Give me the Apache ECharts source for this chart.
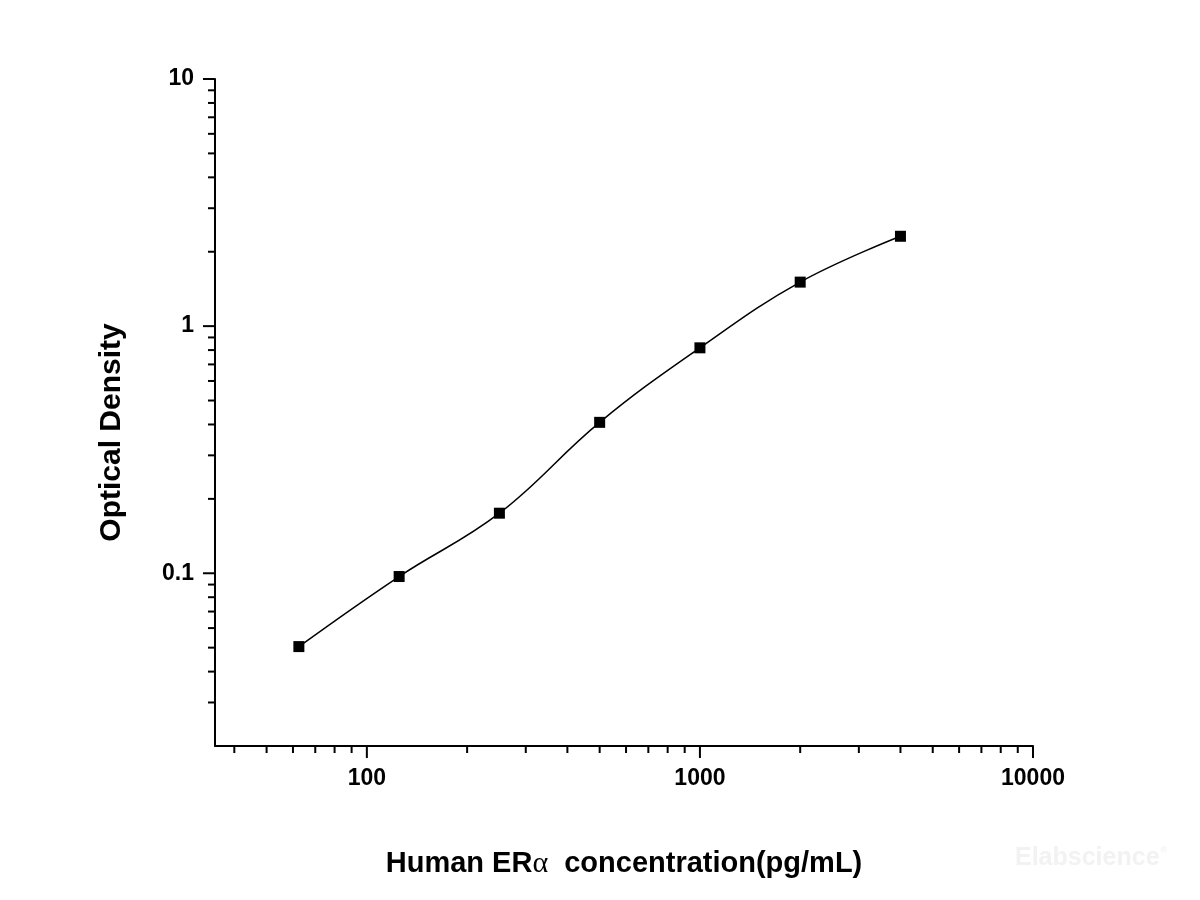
<!DOCTYPE html>
<html>
<head>
<meta charset="utf-8">
<script src="https://cdn.jsdelivr.net/npm/echarts@6/dist/echarts.min.js"></script>
<style>
  html, body { margin: 0; padding: 0; background: #fff; }
  #chart { width: 1200px; height: 900px; }
</style>
</head>
<body>
<div id="chart"></div>
<script>
// standard concentrations (pg/mL) and measured OD
var concentration = [62.5, 125, 250, 500, 1000, 2000, 4000];
var opticalDensity = [0.0505, 0.097, 0.175, 0.408, 0.817, 1.507, 2.31];

// axis ranges and tick values
var xRange = [35, 10000];
var yRange = [0.02, 10];
var xMajorTicks = [100, 1000, 10000];
var xMinorTicks = [40, 50, 60, 70, 80, 90, 200, 300, 400, 500, 600, 700, 800, 900,
  2000, 3000, 4000, 5000, 6000, 7000, 8000, 9000];
var yMajorTicks = [0.1, 1, 10];
var yMinorTicks = [0.03, 0.04, 0.05, 0.06, 0.07, 0.08, 0.09, 0.2, 0.3, 0.4, 0.5,
  0.6, 0.7, 0.8, 0.9, 2, 3, 4, 5, 6, 7, 8, 9];

var font = '"Liberation Sans", Arial, sans-serif';

function tickSeries(values, isX, len) {
  return {
    type: 'custom',
    clip: false,
    silent: true,
    data: values.map(function (v) { return isX ? [v, yRange[0]] : [xRange[0], v]; }),
    renderItem: function (params, api) {
      var p = api.coord([api.value(0), api.value(1)]);
      return {
        type: 'line',
        shape: isX ? { x1: p[0], y1: p[1], x2: p[0], y2: p[1] + len }
                   : { x1: p[0], y1: p[1], x2: p[0] - len, y2: p[1] },
        style: { stroke: '#000', lineWidth: 2 }
      };
    }
  };
}

function fmt(v) { return String(+(+v).toPrecision(6)); }

var chart = echarts.init(document.getElementById('chart'));
chart.setOption({
  animation: false,
  backgroundColor: '#fff',
  grid: { left: 215, right: 167, top: 79, bottom: 154 },
  xAxis: {
    type: 'log',
    logBase: 10,
    min: xRange[0],
    max: xRange[1],
    splitLine: { show: false },
    axisTick: { show: false },
    axisLine: { lineStyle: { color: '#000', width: 2 } },
    axisLabel: {
      showMinLabel: false,
      margin: 21,
      color: '#000',
      fontFamily: font,
      fontWeight: 'bold',
      fontSize: 23,
      formatter: fmt
    },
    name: 'Human ER{a|α}  concentration(pg/mL)',
    nameLocation: 'middle',
    nameGap: 103,
    nameTextStyle: {
      color: '#000',
      fontFamily: font,
      fontWeight: 'bold',
      fontSize: 29,
      rich: {
        a: { fontFamily: '"Liberation Serif", "Times New Roman", serif', fontWeight: 'normal', fontSize: 30, color: '#000' }
      }
    }
  },
  yAxis: {
    type: 'log',
    logBase: 10,
    min: yRange[0],
    max: yRange[1],
    splitLine: { show: false },
    axisTick: { show: false },
    axisLine: { lineStyle: { color: '#000', width: 2 } },
    axisLabel: {
      showMinLabel: false,
      margin: 21,
      color: '#000',
      fontFamily: font,
      fontWeight: 'bold',
      fontSize: 23,
      formatter: fmt
    },
    name: 'Optical Density',
    nameLocation: 'middle',
    nameRotate: 90,
    nameGap: 88,
    nameTextStyle: {
      color: '#000',
      fontFamily: font,
      fontWeight: 'bold',
      fontSize: 30,
      padding: [0, 40, 0, 0]
    }
  },
  graphic: [{
    type: 'text',
    left: 1015,
    top: 846,
    style: {
      text: '{t|Elabscience}{r|®}',
      rich: {
        t: { fill: '#f2f2f2', font: 'bold 25px "Liberation Sans", Arial, sans-serif' },
        r: { fill: '#f2f2f2', font: 'bold 9px "Liberation Sans", Arial, sans-serif', verticalAlign: 'top', padding: [0, 0, 12, 1] }
      }
    }
  }],
  series: [
    {
      type: 'line',
      smooth: 0.4,
      symbol: 'rect',
      symbolSize: 11,
      itemStyle: { color: '#000' },
      lineStyle: { color: '#000', width: 1.5 },
      data: concentration.map(function (c, i) { return [c, opticalDensity[i]]; })
    },
    tickSeries(xMajorTicks, true, 12),
    tickSeries(xMinorTicks, true, 7),
    tickSeries(yMajorTicks, false, 12),
    tickSeries(yMinorTicks, false, 7)
  ]
});
</script>
</body>
</html>
